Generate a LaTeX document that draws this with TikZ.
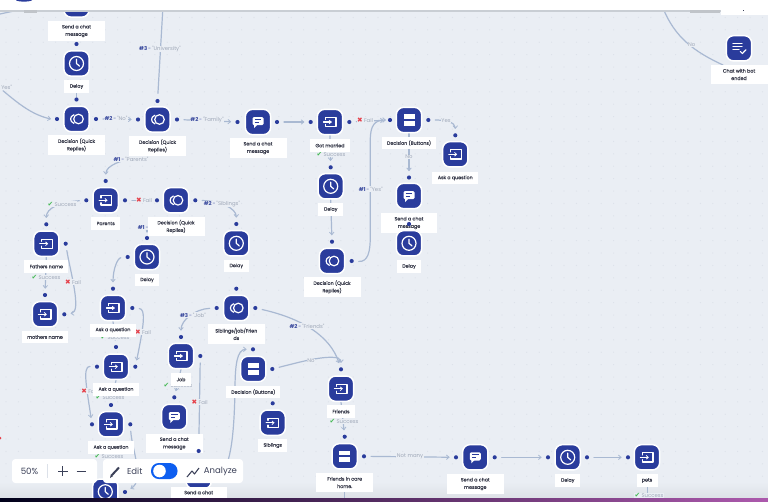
\documentclass[tikz,border=0pt]{standalone}
\usepackage{fontspec}
\setmainfont{Poppins}[FakeBold=0.1]
\newfontfamily\plainfont{Poppins}
\newfontfamily\symfont{DejaVu Sans}
\usetikzlibrary{arrows.meta,shapes.geometric}
\pgfdeclarelayer{bg}\pgfdeclarelayer{conn}\pgfdeclarelayer{top}
\pgfsetlayers{bg,conn,main,top}
\definecolor{canvas}{HTML}{EAEEF4}
\definecolor{griddot}{HTML}{DCE1E9}
\definecolor{iconblue}{HTML}{2A3C9C}
\definecolor{wire}{HTML}{A9B9D2}
\definecolor{hashblue}{HTML}{3A4A9E}
\definecolor{mutetext}{HTML}{9FA8B8}
\definecolor{labeltext}{HTML}{353848}
\definecolor{toolink}{HTML}{3B4058}
\definecolor{togblue}{HTML}{0D5EF0}
\definecolor{okgreen}{HTML}{45B954}
\definecolor{badred}{HTML}{E5404A}
\tikzset{
  x=0.75pt,y=-0.75pt,
  iconbox/.style={rectangle,rounded corners=5.5pt,minimum size=19pt,inner sep=0pt,fill=iconblue,draw=white,line width=1.1pt},
  labelbox/.style={rectangle,fill=white,align=center,inner sep=0pt,text=labeltext,font=\fontsize{3.6}{5.6}\selectfont},
  dotn/.style={circle,fill=iconblue,draw=none,minimum size=3.1pt,inner sep=0pt},
  wireline/.style={draw=wire,line width=0.9pt,line cap=round,-{Straight Barb[length=2pt,width=3.4pt,line width=0.6pt]}},
  wireplain/.style={draw=wire,line width=0.9pt,line cap=round},
  elabel/.style={rectangle,fill=canvas,inner sep=0.4pt,text=mutetext,font=\plainfont\fontsize{4}{4.8}\selectfont},
  ink/.style={draw=white,line width=0.9pt,line cap=round,line join=round},
  icclock/.pic={\draw[ink] (0,0) circle[radius=7]; \draw[ink] (0,-4.2)--(0,0)--(3,2.6);},
  icring/.pic={\draw[ink] (2,0) circle[radius=4.8]; \draw[ink] (-2.6,-4.3) .. controls (-7,-2.5) and (-7,2.5) .. (-2.6,4.3);},
  icbuttons/.pic={\fill[white] (-5.5,-5.6) rectangle (5.5,-1); \fill[white] (-5.5,1) rectangle (5.5,5.6);},
  icinput/.pic={\draw[ink] (-4.8,-2.4)--(-4.8,-4.6)--(6,-4.6)--(6,4.6)--(-4.8,4.6)--(-4.8,2.4); \draw[ink,-{Straight Barb[length=1.5pt,width=2.8pt,line width=0.6pt]}] (-6.5,0)--(1.8,0);},
  icchat/.pic={\fill[white,rounded corners=1pt] (-5.5,-5) rectangle (5.5,3.2); \fill[white] (-4,2) -- (-4,6) -- (0,2) -- cycle; \draw[iconblue,line width=0.7pt] (-3.3,-2.5)--(3.3,-2.5) (-3.3,0)--(1,0);},
  icend/.pic={\draw[ink,line width=0.8pt] (-6,-4.5)--(3,-4.5) (-6,-1.8)--(3,-1.8) (-6,1)--(0,1); \draw[ink] (1.4,3.2)--(3.4,5.2)--(7,1.4);},
}
\newcommand\flow[8]{%
  \node[iconbox] (#1) at (#2,#3) {};
  \pic at (#1) {#4};
  \node[labelbox,minimum width=#5*0.75pt,minimum height=#6*0.75pt] (#1lab) at (#2,#7) {#8};
}
\newcommand\hashtag[1]{\textcolor{hashblue}{\bfseries\##1}\textcolor{hashblue}{\,-\,}}
\newcommand\okmark{\textcolor{okgreen}{\symfont\fontsize{5}{5}\selectfont ✔}}
\newcommand\badmark{\textcolor{badred}{\symfont\fontsize{5}{5}\selectfont ✖}}
\begin{document}
\begin{tikzpicture}
\useasboundingbox (0,0) rectangle (768,501);
\clip (0,0) rectangle (768,501);
\begin{pgfonlayer}{bg}
  \fill[canvas] (0,0) rectangle (768,501);
  \foreach \i in {0,...,61}{\foreach \j in {1,...,40}{\fill[griddot] (6+\i*12.4,5+\j*12.4) circle[radius=0.6];}}
  \shade[top color=canvas,bottom color=canvas!88!gray] (0,482) rectangle (768,498);
\end{pgfonlayer}

% flow nodes
\flow{chata}{76.5}{4.5}{icchat}{57}{20}{31}{Send a chat\\message}
\flow{delaya}{76.5}{63.5}{icclock}{25}{13}{86.5}{Delay}
\flow{deca}{76.5}{119}{icring}{57}{20}{145}{Decision (Quick\\Replies)}
\flow{decb}{157.5}{119.5}{icring}{57}{20}{146}{Decision (Quick\\Replies)}
\flow{chatb}{258}{122}{icchat}{57}{20}{148}{Send a chat\\message}
\flow{married}{330}{122}{icinput}{40}{13}{145.5}{Got married}
\flow{btna}{409}{120}{icbuttons}{54}{12.5}{143}{Decision (Buttons)}
\flow{aska}{455.3}{154.3}{icinput}{46}{12.5}{178}{Ask a question}
\flow{delayb}{330.7}{186.3}{icclock}{25}{13}{209.5}{Delay}
\flow{chatc}{409}{196}{icchat}{56}{20}{223}{Send a chat\\message}
\flow{delayc}{409}{243.3}{icclock}{24}{13}{266.5}{Delay}
\flow{decc}{332}{261}{icring}{57}{20}{287}{Decision (Quick\\Replies)}
\flow{parents}{105.7}{200.3}{icinput}{29}{13}{223.5}{Parents}
\flow{decd}{176}{200.3}{icring}{57}{19.5}{226.5}{Decision (Quick\\Replies)}
\flow{delayd}{147}{257}{icclock}{24}{12.5}{280}{Delay}
\flow{delaye}{236.3}{243.3}{icclock}{25}{12.5}{266}{Delay}
\flow{sib}{236.3}{308}{icring}{57}{20}{334}{Siblings/job/Frien\\ds}
\flow{father}{46.3}{243.7}{icinput}{44}{13}{266.5}{Fathers name}
\flow{mother}{45}{314.3}{icinput}{46}{12.5}{337}{mothers name}
\flow{askb}{113}{308}{icinput}{46}{13}{330}{Ask a question}
\flow{askc}{116}{366.7}{icinput}{46}{13}{389.5}{Ask a question}
\flow{askd}{111}{424.3}{icinput}{46}{13}{447.5}{Ask a question}
\node[iconbox] (delayf) at (105.3,491.7) {};
\pic at (delayf) {icclock};
\flow{job}{181}{356}{icinput}{20}{13}{379.5}{Job}
\flow{chatd}{174.3}{417}{icchat}{57}{19.5}{443.5}{Send a chat\\message}
\node[iconbox] (chate) at (198.7,476) {};
\node[labelbox,minimum width=56*0.75pt,minimum height=11*0.75pt] (chatelab) at (198.7,492.5) {Send a chat};
\flow{btnb}{253.3}{369}{icbuttons}{54}{12.5}{392}{Decision (Buttons)}
\flow{sibs}{272.7}{422.7}{icinput}{29}{13}{445.5}{Siblings}
\flow{friends}{341}{388.7}{icinput}{28}{13}{411.5}{Friends}
\flow{care}{344.7}{456.3}{icbuttons}{57}{19.5}{482.5}{Friends in care\\home.}
\flow{chatf}{475.3}{457.3}{icchat}{57}{20}{484}{Send a chat\\message}
\flow{delayg}{567.7}{457.3}{icclock}{25}{13}{480.5}{Delay}
\flow{pets}{647}{457.3}{icinput}{21}{13}{480.5}{pets}
\flow{ended}{739}{48.3}{icend}{57}{19}{74.5}{Chat with bot\\ended}

% connection dots
\foreach \n/\px/\py in {
  dta/76.5/44, dtb/76.5/99.5, dla/57/119, dra/96/119, dlb/138/119.5, drb/177/119.5, dtc/157.5/101,
  dlc/237.5/122, drc/277/122, dld/310.7/122, drd/349.3/122, dle/390/120, dre/428.3/120,
  dtf/455.3/135.3, dtg/409/177.5, dth/409/224, dti/330.7/167.3, dtj/332/241.7, drj/351.7/261,
  dtk/105.7/181, dlk/86.3/200.3, drk/125/200.3, dll/157/200.3, drl/195.3/200.3,
  dtm/147/238, dlm/127.7/257, dtn/236.3/224, dto/236.3/288.7, dlo/216.7/308, dro/255.3/308,
  dtp/46.3/224.3, drp/65.7/243.7, dtq/45/295, drq/64.3/314.3, dtr/113/288.7, drr/132.3/308,
  dts/116/347, dls/97/366.7, drs/135.3/366.7, dtt/111/405, dlt/92/424.3, drt/130.3/424.3,
  dru/125/492, dtv/181/337, drv/200.3/356, dtw/174.3/397.3, dtx/198.7/451,
  dty/253/349.3, dry/272.3/369, dtz/272.7/403.3, dtaa/341/369.3, dtab/344.7/436.7, drab/364/456.3,
  dlac/456/457.3, drac/494.7/457.3, dlad/548/457.3, drad/587/457.3, dlae/628/457.3}
  {\node[dotn] (\n) at (\px,\py) {};}

% free ends
\coordinate (topwire) at (0,14);
\coordinate (topwireb) at (14,11);
\coordinate (yesstart) at (3,90.7);
\coordinate (uni) at (163,6);
\coordinate (decbout) at (139,157);
\coordinate (decdout) at (147,232);
\coordinate (sendout) at (218,476);
\coordinate (petsout) at (647.7,487);
\coordinate (petsend) at (647.7,493);
\coordinate (careout) at (344.7,492);
\coordinate (careend) at (344.7,498);
\coordinate (noa) at (663,8);
\coordinate (nob) at (723,65);

\begin{pgfonlayer}{conn}
\draw[wireplain] (topwire) -- (topwireb);
\draw[wireline] (yesstart) .. controls (20,105) and (33,115) .. ([xshift=-4.5pt]dla.center);
\draw[wireplain,shorten <=4pt] (dtc) -- (uni);
\draw[wireplain] (delayalab) -- (dtb);
\draw[wireline,shorten <=3.5pt,shorten >=3pt] (dra) -- (dlb);
\draw[wireline,shorten <=3.5pt,shorten >=3pt] (drb) -- (dlc);
\draw[wireline,shorten <=3.5pt,shorten >=3pt] (drc) -- (dld);
\draw[wireline,shorten <=3.5pt,shorten >=3pt] (drd) -- (dle);
\draw[wireline,shorten >=3pt] (married.south) -- (dti);
\draw[wireline,shorten >=3pt] (delayb.south) -- (dtj);
\draw[wireline,shorten <=3.5pt] (drj) .. controls (368,262) and (370.3,252) .. (370.3,236) -- (370.3,140) .. controls (370.3,125) and (375,120) .. ([xshift=-3pt]dle.center);
\draw[wireline,shorten <=3.5pt,shorten >=3pt] (dre) .. controls (445,120) and (455.3,122) .. (dtf);
\draw[wireline,shorten >=3pt] (btna.south) -- (dtg);
\draw[wireline,shorten >=3pt] (decbout) .. controls (122,160) and (106,165) .. (dtk);
\draw[wireline,shorten <=3.5pt,shorten >=3pt] (dlk) .. controls (60,202) and (46.3,208) .. (dtp);
\draw[wireline,shorten <=3.5pt,shorten >=3pt] (drk) -- (dll);
\draw[wireline,shorten <=3.5pt,shorten >=3pt] (drl) .. controls (220,201) and (236.3,208) .. (dtn);
\draw[wireline,shorten >=3pt] (decdout) -- (dtm);
\draw[wireline,shorten <=3.5pt,shorten >=3pt] (dlm) .. controls (118,258) and (113,268) .. (dtr);
\draw[wireline,shorten >=3pt] (father.south) -- (dtq);
\draw[wireline,shorten <=3.5pt,shorten >=3pt] (drp) .. controls (70,270) and (82,312) .. (drq);
\draw[wireline,shorten <=3.5pt,shorten >=3pt] (drr) .. controls (146,309) and (144,325) .. (drs);
\draw[wireline,shorten >=3pt] (askb.south) -- (dts);
\draw[wireline,shorten <=3.5pt,shorten >=3pt] (dls) .. controls (82,366) and (87,390) .. (dlt);
\draw[wireline,shorten >=3pt] (askc.south) -- (dtt);
\draw[wireline,shorten <=3.5pt,shorten >=3pt] (drt) .. controls (132,450) and (145,480) .. (dru);
\draw[wireline,shorten <=3.5pt,shorten >=3pt] (dlo) .. controls (195,309) and (181,320) .. (dtv);
\draw[wireline,shorten <=3.5pt,shorten >=3pt] (dro) .. controls (300,318) and (330,335) .. (dtaa);
\draw[wireline,shorten >=3pt] (job.south) -- (dtw);
\draw[wireplain,shorten <=3.5pt] (drv) -- (dtx);
\draw[wireline,shorten >=3pt] (sendout) .. controls (230,470) and (234,440) .. (235,390) .. controls (235,365) and (237,349.3) .. (dty);
\draw[wireline,shorten <=3.5pt,shorten >=3pt] (dry) .. controls (300,362) and (325,355) .. (338,358) .. controls (341,359) and (341,362) .. (dtaa);
\draw[wireline,shorten >=3pt] (friends.south) -- (dtab);
\draw[wireline,shorten <=3.5pt,shorten >=3pt] (drab) -- (dlac);
\draw[wireline,shorten <=3.5pt,shorten >=3pt] (drac) -- (dlad);
\draw[wireline,shorten <=3.5pt,shorten >=3pt] (drad) -- (dlae);
\draw[wireplain] (petsout) -- (petsend);
\draw[wireplain] (careout) -- (careend);
\draw[wireplain] (noa) .. controls (675,38) and (695,52) .. (nob);

% connector labels
\node[elabel,fill=none,anchor=west] (tyes) at (0.5,87) {Yes"};
\node[elabel] (tuni) at (160,49) {\hashtag{3}"University"};
\node[elabel] (tno) at (116,118.3) {\hashtag{2}"No"};
\node[elabel] (tfam) at (207,120) {\hashtag{2}"Family"};
\node[elabel] (tfaila) at (365,120) {\badmark{} Fail};
\node[elabel] (tsucca) at (331,154) {\okmark{} Success};
\node[elabel] (tyesb) at (370.7,189) {\hashtag{1}"Yes"};
\node[elabel] (tyesc) at (446,121) {Yes};
\node[elabel] (tnob) at (409,157) {No};
\node[elabel] (tpar) at (131,159) {\hashtag{1}"Parents"};
\node[elabel] (tsuccb) at (62,204) {\okmark{} Success};
\node[elabel] (tfailb) at (144,200) {\badmark{} Fail};
\node[elabel] (tsibl) at (222,204) {\hashtag{2}"Siblings"};
\node[elabel,anchor=west] (tdq) at (137,227) {\hashtag{1}"};
\node[elabel] (tsuccc) at (46,277.7) {\okmark{} Success};
\node[elabel] (tfailc) at (73,282) {\badmark{} Fail};
\node[elabel] (tfaild) at (143,332) {\badmark{} Fail};
\node[elabel] (tsuccd) at (115,337.5) {\okmark{} Success};
\node[elabel,anchor=west] (tfaile) at (80.5,391) {\badmark{} Fail};
\node[elabel] (tsucce) at (110,397) {\okmark{} Success};
\node[elabel] (tsuccf) at (109,456.7) {\okmark{} Success};
\node[elabel] (tjob) at (193,315) {\hashtag{3}"Job"};
\node[elabel] (tfr) at (307,326) {\hashtag{2}"Friends"};
\node[elabel] (tsuccg) at (178,385.7) {\okmark{} Success};
\node[elabel] (tfailf) at (199.7,402) {\badmark{} Fail};
\node[elabel] (tnoc) at (311,361) {No};
\node[elabel] (tsucch) at (344,421.7) {\okmark{} Success};
\node[elabel] (tmany) at (410,456.6) {Not many};
\node[elabel,anchor=north] (tsucci) at (649,492.5) {\okmark{} Success};
\node[elabel] (tnod) at (691.7,45) {No};
\end{pgfonlayer}

\begin{pgfonlayer}{top}
  % top bar
  \fill[griddot!80!gray] (0,10) rectangle (768,12);
  \fill[griddot!70!gray] (24,10) rectangle (37,13);
  \fill[griddot!70!gray] (690,10) rectangle (720,13);
  \fill[white] (721,10) rectangle (768,15);
  \fill[white] (0,0) rectangle (768,10);
  \fill[toolink] (743,9.5) rectangle (744,11);
  \fill[iconblue] (24,0) ellipse[x radius=8,y radius=1.6];
  \fill[badred] (0,438) circle[radius=1.5];
  % bottom strip
  \shade[left color=black!90!blue,middle color=iconblue!70!black,right color=violet!65!white] (0,498) rectangle (768,501);
  % toolbar
  \fill[white,rounded corners=2.5pt] (12,459) rectangle (97,483);
  \fill[white,rounded corners=2.5pt] (103,459) rectangle (243,483);
  \node[text=toolink,font=\plainfont\fontsize{6.5}{7}\selectfont,inner sep=0pt] (zoomtext) at (29.5,471) {50\%};
  \draw[griddot,line width=0.6pt] (47.5,464) -- (47.5,478);
  \draw[toolink,line width=0.7pt] (58,471) -- (67.5,471) (62.7,466.3) -- (62.7,475.7);
  \draw[toolink,line width=0.7pt] (76.5,471) -- (85.5,471);
  \draw[toolink,line width=1.5pt] (112,475) -- (119,467.5);
  \fill[toolink] (110,478) -- (111,473.8) -- (113.2,476) -- cycle;
  \node[text=toolink,font=\plainfont\fontsize{6.4}{7}\selectfont,inner sep=0pt] (edittext) at (134.7,471) {Edit};
  \fill[togblue,rounded corners=5.8pt] (151,463) rectangle (177.5,479);
  \fill[white] (159.5,471) circle[radius=6.3];
  \draw[toolink,line width=0.8pt,line join=round] (187,477) -- (192,471) -- (194.5,474) -- (199,468);
  \node[text=toolink,font=\plainfont\fontsize{6.4}{7}\selectfont,inner sep=0pt] (analyzetext) at (220.5,471) {Analyze};
\end{pgfonlayer}
\end{tikzpicture}
\end{document}
